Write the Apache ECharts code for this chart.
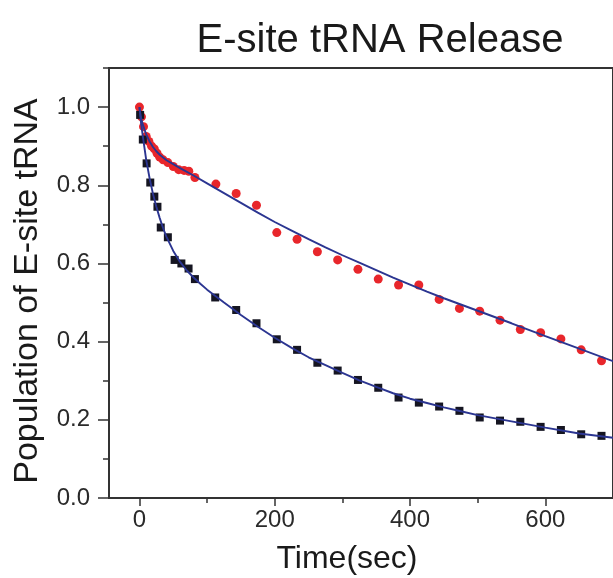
<!DOCTYPE html>
<html>
<head>
<meta charset="utf-8">
<script src="https://cdn.jsdelivr.net/npm/echarts@6/dist/echarts.min.js"></script>
<style>html,body{margin:0;padding:0;background:#fff}#c{width:613px;height:578px}</style>
</head>
<body>
<div id="c"></div>
<script>
// ---- data ----
var titleText = 'E-site tRNA Release';
var xName = 'Time(sec)';
var yName = 'Population of E-site tRNA';
var xTicks = [0, 200, 400, 600];
var xMinorTicks = [100, 300, 500];
var yTicks = [0, 0.2, 0.4, 0.6, 0.8, 1.0];
var yMinorTicks = [0.1, 0.3, 0.5, 0.7, 0.9, 1.1];

var redPoints = [[0,1.00],[3,0.975],[6,0.95],[10,0.925],[14,0.912],[18,0.90],[22,0.893],[26,0.882],[30,0.872],[35,0.865],[42,0.858],[50,0.848],[58,0.84],[66,0.838],[73,0.836],[82,0.82],[113,0.803],[143,0.779],[173,0.749],[203,0.679],[233,0.662],[263,0.63],[293,0.609],[323,0.585],[353,0.56],[383,0.545],[413,0.545],[443,0.508],[473,0.485],[503,0.478],[533,0.455],[563,0.431],[593,0.423],[623,0.407],[653,0.379],[683,0.351]];
var blackPoints = [[1,0.98],[5,0.917],[10.6,0.856],[16,0.807],[22,0.771],[26.6,0.745],[31.5,0.692],[42,0.667],[52,0.609],[62,0.60],[72.6,0.587],[82,0.56],[112,0.513],[143,0.481],[173,0.447],[203,0.406],[233,0.379],[263,0.346],[293,0.326],[323,0.302],[353,0.282],[383,0.257],[413,0.244],[443,0.234],[473,0.223],[503,0.206],[533,0.198],[563,0.195],[593,0.182],[623,0.174],[653,0.163],[683,0.159]];
var redFit = [[0,1.0],[2,0.975],[5,0.955],[10,0.93],[15,0.912],[20,0.898],[25,0.887],[30,0.878],[35,0.871],[40,0.864],[50,0.854],[60,0.844],[80,0.825],[100,0.805],[125,0.78],[150,0.755],[175,0.73],[200,0.706],[225,0.684],[250,0.662],[275,0.641],[300,0.621],[325,0.602],[350,0.583],[375,0.564],[400,0.546],[425,0.528],[450,0.511],[475,0.495],[500,0.479],[550,0.447],[600,0.414],[650,0.382],[700,0.35]];
var blackFit = [[0,1.0],[2,0.965],[5,0.925],[10,0.865],[15,0.818],[20,0.778],[25,0.745],[30,0.716],[35,0.69],[40,0.668],[50,0.632],[60,0.604],[70,0.582],[80,0.564],[90,0.548],[100,0.533],[125,0.5],[150,0.468],[175,0.438],[200,0.41],[225,0.384],[250,0.36],[275,0.34],[300,0.32],[325,0.301],[350,0.284],[375,0.268],[400,0.254],[425,0.243],[450,0.232],[475,0.222],[500,0.212],[550,0.196],[600,0.18],[650,0.165],[700,0.154]];

var FONT = 'Liberation Sans, Arial, Helvetica, sans-serif';
var chart = echarts.init(document.getElementById('c'), null, {renderer: 'canvas'});
var axisColor = '#333';
chart.setOption({
  animation: false,
  backgroundColor: '#fff',
  grid: {left: 109, top: 68, bottom: 80, right: -9, show: true, borderColor: axisColor, borderWidth: 2, containLabel: false},
  xAxis: [{
    type: 'value', min: -45, max: 700,
    axisLine: {show: true, onZero: false, lineStyle: {color: axisColor, width: 2}},
    axisTick: {show: true, inside: false, length: 8, customValues: xTicks, lineStyle: {color: axisColor, width: 1.5}},
    axisLabel: {show: true, customValues: xTicks, margin: 10, fontSize: 24, color: '#2a2a2a', fontFamily: FONT},
    splitLine: {show: false}
  }, {
    type: 'value', min: -45, max: 700, position: 'bottom',
    axisLine: {show: false, onZero: false},
    axisTick: {show: true, length: 5, customValues: xMinorTicks, lineStyle: {color: axisColor, width: 1.5}},
    axisLabel: {show: false},
    splitLine: {show: false}
  }],
  yAxis: [{
    type: 'value', min: 0, max: 1.1,
    axisLine: {show: true, onZero: false, lineStyle: {color: axisColor, width: 2}},
    axisTick: {show: true, length: 11, customValues: yTicks, lineStyle: {color: axisColor, width: 1.5}},
    axisLabel: {show: true, customValues: yTicks, margin: 19, fontSize: 24, color: '#2a2a2a', fontFamily: FONT,
      formatter: function (v) { return Number(v).toFixed(1); }},
    splitLine: {show: false}
  }, {
    type: 'value', min: 0, max: 1.1, position: 'left',
    axisLine: {show: false, onZero: false},
    axisTick: {show: true, length: 6, customValues: yMinorTicks, lineStyle: {color: axisColor, width: 1.5}},
    axisLabel: {show: false},
    splitLine: {show: false}
  }],
  series: [
    {type: 'scatter', data: redPoints, symbol: 'circle', symbolSize: 9, itemStyle: {color: '#e8262b', opacity: 1}, z: 2},
    {type: 'scatter', data: blackPoints, symbol: 'rect', symbolSize: 8, itemStyle: {color: '#151521', opacity: 1}, z: 2},
    {type: 'line', data: redFit, smooth: false, showSymbol: false, symbol: 'none', lineStyle: {color: '#2b3591', width: 1.9}, z: 3},
    {type: 'line', data: blackFit, smooth: false, showSymbol: false, symbol: 'none', lineStyle: {color: '#2b3591', width: 1.9}, z: 3}
  ],
  graphic: [
    {type: 'text', x: 380, y: 61, style: {text: titleText, font: '40px ' + FONT, fill: '#1a1a1a', textAlign: 'center', textVerticalAlign: 'bottom'}},
    {type: 'text', x: 347, y: 575, style: {text: xName, font: '32px ' + FONT, fill: '#1a1a1a', textAlign: 'center', textVerticalAlign: 'bottom'}},
    {type: 'text', x: 28, y: 291, rotation: Math.PI / 2, style: {text: yName, font: '34px ' + FONT, fill: '#1a1a1a', textAlign: 'center', textVerticalAlign: 'middle'}}
  ]
});
</script>
</body>
</html>
